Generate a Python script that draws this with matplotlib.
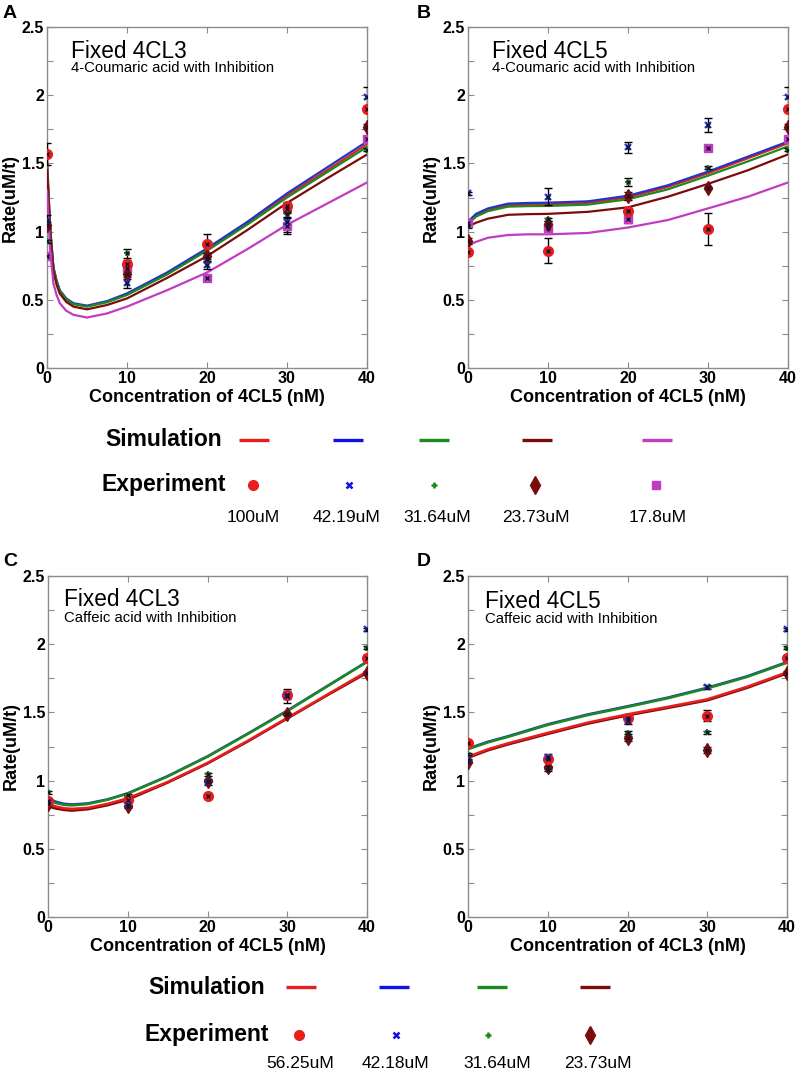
import numpy as np
import matplotlib
matplotlib.use("Agg")
import matplotlib.pyplot as plt
from matplotlib.ticker import MultipleLocator

plt.rcParams['font.family'] = ['Liberation Sans', 'DejaVu Sans']

# ---------------- data ----------------
conc = [0, 10, 20, 30, 40]

# Panel A: fixed 4CL3, 4-coumaric acid
simA_x = [0, 0.4, 0.8, 1.2, 1.6, 2.4, 3.3, 5, 7.5, 10, 15, 20, 25, 30, 35, 40]
simA_red = [1.55, 1.02, 0.735, 0.635, 0.566, 0.506, 0.471, 0.453, 0.486, 0.54, 0.692, 0.868, 1.06, 1.265, 1.45, 1.64]
simA_blue = [1.50, 1.02, 0.74, 0.64, 0.57, 0.51, 0.475, 0.457, 0.49, 0.547, 0.70, 0.877, 1.07, 1.28, 1.47, 1.66]
simA_green = [1.48, 1.01, 0.73, 0.63, 0.563, 0.503, 0.468, 0.45, 0.482, 0.535, 0.685, 0.86, 1.05, 1.25, 1.435, 1.62]
simA_dred = [1.45, 0.98, 0.71, 0.61, 0.545, 0.485, 0.45, 0.43, 0.462, 0.51, 0.66, 0.82, 1.01, 1.21, 1.39, 1.565]
simA_mag = [1.30, 0.86, 0.62, 0.535, 0.475, 0.42, 0.39, 0.37, 0.40, 0.45, 0.57, 0.70, 0.87, 1.05, 1.205, 1.36]

expA_red = [1.57, 0.76, 0.91, 1.19, 1.90]
expA_red_err = [0.08, 0.03, 0.07, 0.03, 0.02]
expA_blue = [1.08, 0.62, 0.755, 1.07, 1.99]
expA_blue_err = [0.04, 0.03, 0.03, 0.07, 0.07]
expA_green = [0.93, 0.84, 0.80, 1.13, 1.60]
expA_green_err = [0.01, 0.03, 0.02, 0.02, 0.01]
expA_dred = [1.05, 0.69, 0.82, 1.165, 1.77]
expA_dred_err = [0.02, 0.02, 0.02, 0.02, 0.02]
expA_mag = [0.82, 0.73, 0.66, 1.04, 1.68]
expA_mag_err = [0.01, 0.02, 0.01, 0.06, 0.01]

# Panel B: fixed 4CL5, 4-coumaric acid
simB_x = [0, 1, 2.5, 5, 7.5, 10, 15, 20, 25, 30, 35, 40]
simB_red = [1.061, 1.118, 1.158, 1.193, 1.198, 1.200, 1.210, 1.251, 1.328, 1.428, 1.538, 1.648]
simB_blue = [1.073, 1.13, 1.17, 1.205, 1.21, 1.212, 1.222, 1.263, 1.34, 1.44, 1.55, 1.66]
simB_green = [1.056, 1.11, 1.15, 1.183, 1.187, 1.188, 1.198, 1.237, 1.31, 1.41, 1.515, 1.625]
simB_dred = [1.036, 1.065, 1.095, 1.123, 1.128, 1.13, 1.145, 1.178, 1.256, 1.35, 1.45, 1.566]
simB_mag = [0.90, 0.925, 0.955, 0.975, 0.98, 0.98, 0.99, 1.03, 1.085, 1.17, 1.256, 1.36]

expB_red = [0.85, 0.86, 1.153, 1.02, 1.90]
expB_red_err = [0.01, 0.09, 0.02, 0.12, 0.02]
expB_blue = [1.28, 1.256, 1.617, 1.78, 1.99]
expB_blue_err = [0.01, 0.06, 0.04, 0.05, 0.07]
expB_green = [1.04, 1.09, 1.366, 1.468, 1.60]
expB_green_err = [0.01, 0.01, 0.03, 0.01, 0.01]
expB_dred = [0.93, 1.056, 1.26, 1.32, 1.77]
expB_dred_err = [0.02, 0.02, 0.03, 0.01, 0.02]
expB_mag = [1.06, 1.025, 1.09, 1.613, 1.68]
expB_mag_err = [0.01, 0.02, 0.03, 0.01, 0.01]

# Panel C: fixed 4CL3, caffeic acid
simC_x = [0, 1, 2, 3, 5, 7.5, 10, 15, 20, 25, 30, 35, 40]
simC_red = [0.83, 0.81, 0.797, 0.793, 0.80, 0.83, 0.87, 0.99, 1.13, 1.29, 1.46, 1.63, 1.80]
simC_blue = [0.87, 0.845, 0.83, 0.825, 0.833, 0.863, 0.907, 1.033, 1.178, 1.343, 1.513, 1.693, 1.872]
simC_green = [0.86, 0.835, 0.822, 0.818, 0.828, 0.86, 0.905, 1.03, 1.175, 1.34, 1.51, 1.69, 1.87]
simC_dred = [0.81, 0.795, 0.785, 0.78, 0.79, 0.82, 0.86, 0.985, 1.125, 1.285, 1.455, 1.625, 1.79]

expC_red = [0.85, 0.86, 0.887, 1.627, 1.90]
expC_red_err = [0.02, 0.02, 0.02, 0.03, 0.02]
expC_blue = [0.84, 0.82, 0.99, 1.62, 2.109]
expC_blue_err = [0.02, 0.02, 0.02, 0.05, 0.01]
expC_green = [0.914, 0.894, 1.046, 1.488, 1.975]
expC_green_err = [0.01, 0.01, 0.01, 0.01, 0.01]
expC_dred = [0.83, 0.814, 0.997, 1.488, 1.79]
expC_dred_err = [0.01, 0.01, 0.01, 0.01, 0.01]

# Panel D: fixed 4CL5, caffeic acid
simD_x = [0, 2.5, 5, 10, 15, 20, 25, 30, 35, 40]
simD_red = [1.175, 1.23, 1.273, 1.35, 1.425, 1.486, 1.54, 1.596, 1.688, 1.794]
simD_blue = [1.235, 1.285, 1.325, 1.413, 1.485, 1.545, 1.608, 1.681, 1.765, 1.869]
simD_green = [1.23, 1.28, 1.32, 1.408, 1.48, 1.54, 1.603, 1.676, 1.76, 1.864]
simD_dred = [1.167, 1.222, 1.265, 1.342, 1.417, 1.478, 1.532, 1.588, 1.68, 1.786]

expD_red = [1.278, 1.155, 1.461, 1.474, 1.90]
expD_red_err = [0.01, 0.02, 0.02, 0.04, 0.02]
expD_blue = [1.15, 1.173, 1.437, 1.688, 2.109]
expD_blue_err = [0.01, 0.02, 0.02, 0.015, 0.01]
expD_green = [1.195, 1.077, 1.351, 1.354, 1.975]
expD_green_err = [0.01, 0.01, 0.01, 0.01, 0.01]
expD_dred = [1.139, 1.10, 1.31, 1.224, 1.79]
expD_dred_err = [0.01, 0.01, 0.02, 0.02, 0.01]

legend1_labels = ["100uM", "42.19uM", "31.64uM", "23.73uM", "17.8uM"]
legend2_labels = ["56.25uM", "42.18uM", "31.64uM", "23.73uM"]

# ---------------- styles ----------------
C_RED = '#e81e1e'
C_BLUE = '#2235c8'
C_GREEN = '#1d8a1d'
C_DRED = '#7a0c0c'
C_MAG = '#c03cc0'
LEG_BLUE = '#1010e8'
markers5 = ['o', 'x', '+', 'd', 's']

W, H = 797, 1069
fig = plt.figure(figsize=(W / 100, H / 100), dpi=100)


def px_axes(left, top, right, bottom):
    return fig.add_axes([left / W, 1 - bottom / H, (right - left) / W, (bottom - top) / H])


def style_axes(ax, xlabel):
    ax.set_xlim(0, 40)
    ax.set_ylim(0, 2.5)
    ax.xaxis.set_major_locator(MultipleLocator(10))
    ax.yaxis.set_minor_locator(MultipleLocator(0.25))
    ax.set_yticks([0, 0.5, 1, 1.5, 2, 2.5])
    ax.set_yticklabels(['0', '0.5', '1', '1.5', '2', '2.5'])
    for s in ax.spines.values():
        s.set_color('#8c8c8c')
        s.set_linewidth(1.0)
    ax.tick_params(which='both', direction='in', top=True, right=True,
                   color='#8c8c8c', width=0.8)
    ax.tick_params(which='major', length=4, labelsize=11.5, pad=2)
    ax.tick_params(which='minor', length=4)
    for lab in ax.get_xticklabels() + ax.get_yticklabels():
        lab.set_fontweight('bold')
    ax.set_xlabel(xlabel, fontsize=13, fontweight='bold')
    ax.set_ylabel('Rate(uM/t)', fontsize=13, fontweight='bold')
    ax.xaxis.set_label_coords(0.5, -0.062)
    ax.yaxis.set_label_coords(-0.088, 0.5)


def draw_exp(ax, series):
    for (vals, err, col, mk, ms) in series:
        ax.errorbar(conc, vals, yerr=err, fmt='none', ecolor='black',
                    elinewidth=1.0, capsize=3, capthick=1.0, zorder=4)
        if mk in ('x', '+'):
            ax.plot(conc, vals, linestyle='none', marker=mk, color=col,
                    markersize=ms, mew=1.6, zorder=5)
        else:
            ax.plot(conc, vals, linestyle='none', marker=mk, color=col,
                    markersize=ms, markeredgecolor=col, zorder=5)
        ax.plot(conc, vals, linestyle='none', marker='x', color='#151530',
                markersize=3.5, mew=1.0, zorder=6)


def title(ax, dx, dy1, dy2, t1, t2):
    ax.text(dx, 1 - dy1 / 341, t1, transform=ax.transAxes, fontsize=16.3,
            va='center', ha='left')
    ax.text(dx, 1 - dy2 / 341, t2, transform=ax.transAxes, fontsize=10.7,
            va='center', ha='left')


# Panel A
axA = px_axes(47, 27, 367, 368)
for ys, c in [(simA_red, C_RED), (simA_blue, C_BLUE), (simA_green, C_GREEN),
              (simA_dred, C_DRED), (simA_mag, C_MAG)]:
    axA.plot(simA_x, ys, color=c, lw=1.6, zorder=3)
draw_exp(axA, [
    (expA_mag, expA_mag_err, C_MAG, 's', 6),
    (expA_green, expA_green_err, C_GREEN, '+', 5),
    (expA_dred, expA_dred_err, C_DRED, 'd', 7),
    (expA_red, expA_red_err, C_RED, 'o', 7),
    (expA_blue, expA_blue_err, C_BLUE, 'x', 4),
])
style_axes(axA, 'Concentration of 4CL5 (nM)')
title(axA, 0.075, 24, 41, 'Fixed 4CL3', '4-Coumaric acid with Inhibition')

# Panel B
axB = px_axes(468, 27, 788, 368)
for ys, c in [(simB_red, C_RED), (simB_blue, C_BLUE), (simB_green, C_GREEN),
              (simB_dred, C_DRED), (simB_mag, C_MAG)]:
    axB.plot(simB_x, ys, color=c, lw=1.6, zorder=3)
draw_exp(axB, [
    (expB_mag, expB_mag_err, C_MAG, 's', 6),
    (expB_green, expB_green_err, C_GREEN, '+', 5),
    (expB_dred, expB_dred_err, C_DRED, 'd', 7),
    (expB_red, expB_red_err, C_RED, 'o', 7),
    (expB_blue, expB_blue_err, C_BLUE, 'x', 4),
])
style_axes(axB, 'Concentration of 4CL5 (nM)')
title(axB, 0.074, 24, 41, 'Fixed 4CL5', '4-Coumaric acid with Inhibition')

# Panel C
axC = px_axes(48, 576, 367, 917)
for ys, c in [(simC_dred, C_DRED), (simC_red, C_RED), (simC_blue, C_BLUE),
              (simC_green, C_GREEN)]:
    axC.plot(simC_x, ys, color=c, lw=1.8, zorder=3)
draw_exp(axC, [
    (expC_green, expC_green_err, C_GREEN, '+', 5),
    (expC_dred, expC_dred_err, C_DRED, 'd', 7),
    (expC_red, expC_red_err, C_RED, 'o', 7),
    (expC_blue, expC_blue_err, C_BLUE, 'x', 4),
])
style_axes(axC, 'Concentration of 4CL5 (nM)')
title(axC, 0.051, 24, 42, 'Fixed 4CL3', 'Caffeic acid with Inhibition')

# Panel D
axD = px_axes(468, 576, 787, 917)
for ys, c in [(simD_dred, C_DRED), (simD_red, C_RED), (simD_blue, C_BLUE),
              (simD_green, C_GREEN)]:
    axD.plot(simD_x, ys, color=c, lw=1.8, zorder=3)
draw_exp(axD, [
    (expD_green, expD_green_err, C_GREEN, '+', 5),
    (expD_dred, expD_dred_err, C_DRED, 'd', 7),
    (expD_red, expD_red_err, C_RED, 'o', 7),
    (expD_blue, expD_blue_err, C_BLUE, 'x', 4),
])
style_axes(axD, 'Concentration of 4CL3 (nM)')
title(axD, 0.053, 26, 43, 'Fixed 4CL5', 'Caffeic acid with Inhibition')

# ---------------- overlay: panel letters and legends ----------------
ov = fig.add_axes([0, 0, 1, 1], zorder=10)
ov.set_xlim(0, W)
ov.set_ylim(H, 0)
ov.axis('off')

for letter, (lx, ly) in zip("ABCD", [(10, 14), (424, 13), (10, 561), (424, 561)]):
    ov.text(lx, ly, letter, fontsize=14, fontweight='bold', ha='center', va='center')

leg_colors = [C_RED, LEG_BLUE, C_GREEN, C_DRED, C_MAG]
leg_ms = [7, 4.5, 5, 9, 5.5]
leg_mew = [1, 1.8, 1.8, 1, 1]


def legend_block(x_text, y_sim, y_exp, y_lab, line_x, mark_x, lab_x, labels):
    n = len(labels)
    ov.text(x_text, y_sim, 'Simulation', fontsize=16.5, fontweight='bold', ha='center', va='center')
    ov.text(x_text, y_exp, 'Experiment', fontsize=16.5, fontweight='bold', ha='center', va='center')
    for i in range(n):
        ov.plot([line_x[i] - 15, line_x[i] + 15], [y_sim, y_sim], color=leg_colors[i], lw=2.4,
                solid_capstyle='butt')
        ov.plot([mark_x[i]], [y_exp], linestyle='none', marker=markers5[i], color=leg_colors[i],
                markersize=leg_ms[i], mew=leg_mew[i])
        ov.text(lab_x[i], y_lab, labels[i], fontsize=12.5, ha='center', va='center')


legend_block(164, 440, 485, 517,
             [254, 348, 434, 537, 657], [253, 349, 434, 535, 656],
             [253, 347, 437, 536, 658], legend1_labels)
legend_block(207, 987, 1035, 1063,
             [301, 394, 492, 595], [299, 396, 488, 590],
             [300, 395, 497, 598], legend2_labels)

fig.savefig('out.png', dpi=100)
